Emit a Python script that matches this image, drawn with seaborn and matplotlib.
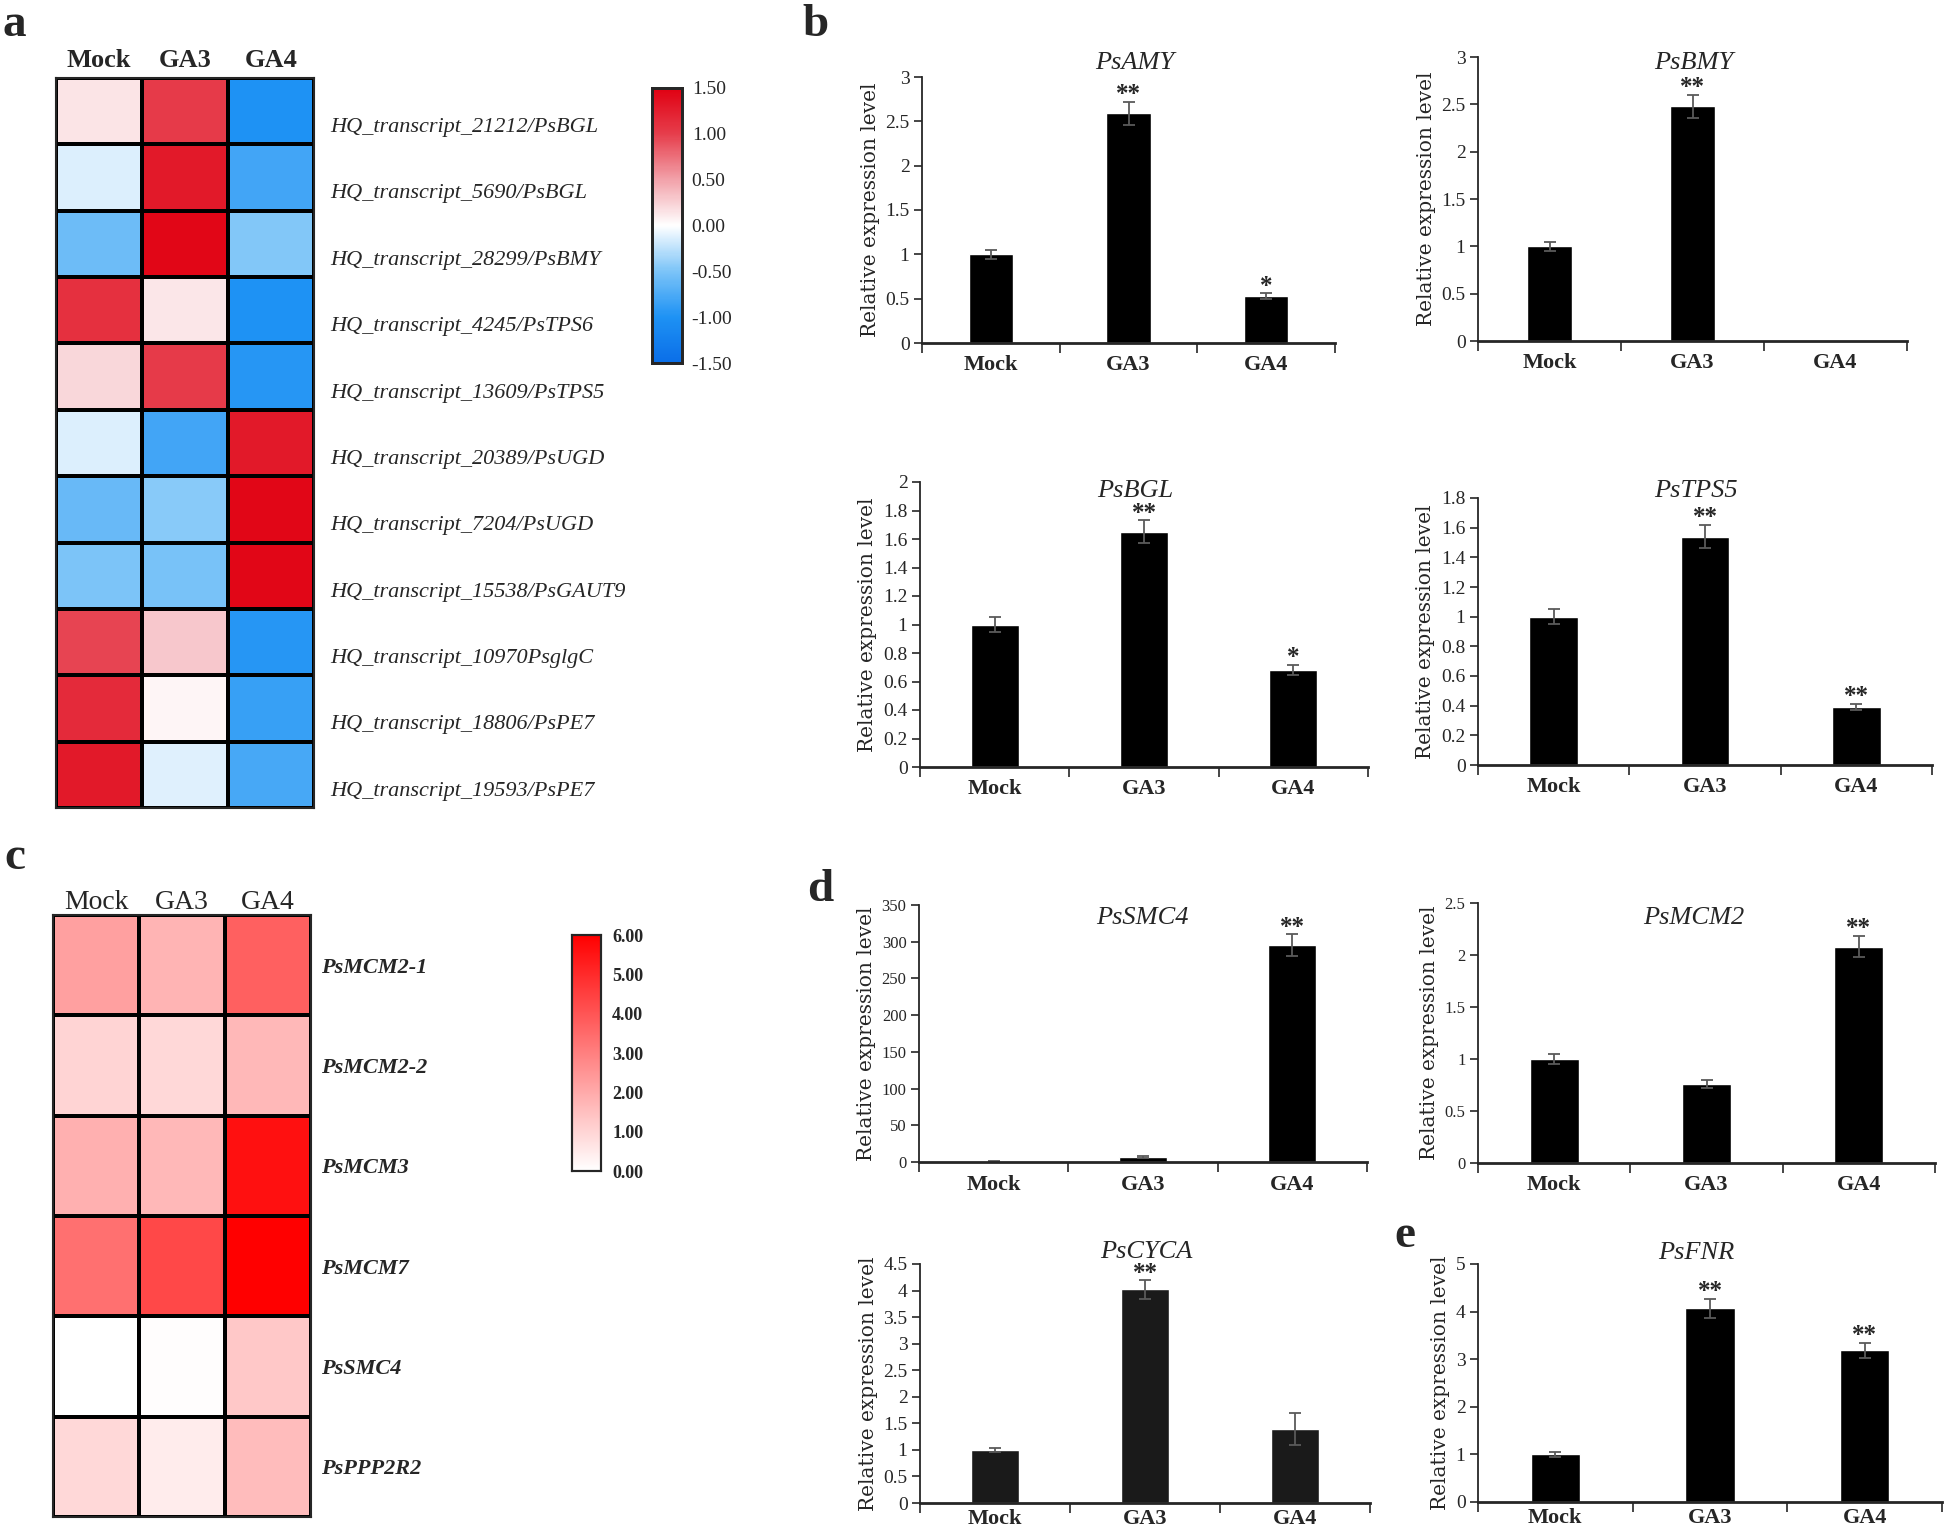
"""
GA3 / GA4 expression figure: heatmaps (a, c) and qRT-PCR bars (b, d, e)
"""

import numpy as np
import pandas as pd
import matplotlib
matplotlib.use('Agg')
import matplotlib.pyplot as plt
import seaborn as sns
from matplotlib.colors import LinearSegmentedColormap
from matplotlib.ticker import FuncFormatter

sns.set_style('ticks')
plt.rcParams['font.family'] = ['Liberation Serif', 'DejaVu Serif']

W, H = 1944, 1535

treatments = ['Mock', 'GA3', 'GA4']

# ---- panel a: z-score heatmap ----
genes_a = ['HQ_transcript_21212/PsBGL', 'HQ_transcript_5690/PsBGL',
           'HQ_transcript_28299/PsBMY', 'HQ_transcript_4245/PsTPS6',
           'HQ_transcript_13609/PsTPS5', 'HQ_transcript_20389/PsUGD',
           'HQ_transcript_7204/PsUGD', 'HQ_transcript_15538/PsGAUT9',
           'HQ_transcript_10970PsglgC', 'HQ_transcript_18806/PsPE7',
           'HQ_transcript_19593/PsPE7']
mock_a = [0.15, -0.14, -0.58, 1.11, 0.22, -0.14, -0.60, -0.50, 0.97, 1.16, 1.30]
ga3_a = [1.02, 1.30, 1.45, 0.14, 1.02, -0.80, -0.45, -0.52, 0.30, 0.05, -0.12]
ga4_a = [-1.00, -0.80, -0.48, -1.00, -0.95, 1.30, 1.45, 1.45, -0.95, -0.86, -0.78]

# ---- panel c: expression heatmap ----
genes_c = ['PsMCM2-1', 'PsMCM2-2', 'PsMCM3', 'PsMCM7', 'PsSMC4', 'PsPPP2R2']
mock_c = [2.24, 1.01, 1.86, 3.36, 0.00, 0.92]
ga3_c = [1.76, 0.92, 1.67, 4.30, 0.05, 0.45]
ga4_c = [3.74, 1.67, 5.62, 6.00, 1.29, 1.58]

# ---- qRT-PCR relative expression (mean, sd, significance) ----
amy_mean, amy_err, amy_sig = [1.0, 2.59, 0.53], [0.05, 0.13, 0.03], ['', '**', '*']
bmy_mean, bmy_err, bmy_sig = [1.0, 2.48, 0.0], [0.05, 0.12, 0.0], ['', '**', '']
bgl_mean, bgl_err, bgl_sig = [1.0, 1.65, 0.68], [0.05, 0.08, 0.035], ['', '**', '*']
tps5_mean, tps5_err, tps5_sig = [1.0, 1.54, 0.39], [0.05, 0.08, 0.02], ['', '**', '**']
smc4_mean, smc4_err, smc4_sig = [1.0, 7.0, 295.0], [0.5, 1.0, 15.0], ['', '', '**']
mcm2_mean, mcm2_err, mcm2_sig = [1.0, 0.76, 2.08], [0.05, 0.04, 0.10], ['', '', '**']
cyca_mean, cyca_err, cyca_sig = [1.0, 4.02, 1.39], [0.04, 0.17, 0.30], ['', '**', '']
fnr_mean, fnr_err, fnr_sig = [1.0, 4.07, 3.19], [0.05, 0.20, 0.16], ['', '**', '**']


def px_axes(fig, left, top, right, bottom):
    return fig.add_axes([left / W, 1 - bottom / H, (right - left) / W, (bottom - top) / H])


fig = plt.figure(figsize=(W / 100, H / 100), dpi=100)

# ===== heatmap a =====
cmap_a = LinearSegmentedColormap.from_list(
    'a', [(0, '#0a6ee8'), (1 / 6, '#1e92f4'), (1 / 3, '#7cc4f8'), (0.5, '#ffffff'),
          (2 / 3, '#f2a2aa'), (5 / 6, '#e63e4c'), (1, '#e00012')])
df_a = pd.DataFrame({'Mock': mock_a, 'GA3': ga3_a, 'GA4': ga4_a}, index=genes_a)
ax_a = px_axes(fig, 56, 78, 314, 808)
cax_a = px_axes(fig, 652, 88, 682, 363)
sns.heatmap(df_a, ax=ax_a, cbar_ax=cax_a, cmap=cmap_a, vmin=-1.5, vmax=1.5,
            linewidths=1.5, linecolor='black')
ax_a.xaxis.tick_top()
ax_a.yaxis.tick_right()
ax_a.set_xticklabels(treatments, fontsize=19, fontweight='bold')
# gene names sit a little below the middle of each row
ax_a.set_yticks(np.arange(len(genes_a)) + 0.71)
ax_a.set_yticklabels(genes_a, rotation=0, fontsize=16, style='italic')
ax_a.tick_params(length=0)
ax_a.tick_params(axis='y', pad=12)
ax_a.tick_params(axis='x', pad=4)
for s in ax_a.spines.values():
    s.set_visible(True)
    s.set_linewidth(1.5)
cax_a.set_yticks([1.5, 1.0, 0.5, 0.0, -0.5, -1.0, -1.5])
cax_a.set_yticklabels(['1.50', '1.00', '0.50', '0.00', '-0.50', '-1.00', '-1.50'], fontsize=14)
cax_a.tick_params(length=0, pad=7)
for s in cax_a.spines.values():
    s.set_visible(True)
    s.set_linewidth(2)

# ===== heatmap c =====
cmap_c = LinearSegmentedColormap.from_list('c', ['#ffffff', '#ff0000'])
df_c = pd.DataFrame({'Mock': mock_c, 'GA3': ga3_c, 'GA4': ga4_c}, index=genes_c)
ax_c = px_axes(fig, 53, 915, 311, 1517)
cax_c = px_axes(fig, 572, 935, 601, 1171)
sns.heatmap(df_c, ax=ax_c, cbar_ax=cax_c, cmap=cmap_c, vmin=0, vmax=6,
            linewidths=1.5, linecolor='black')
ax_c.xaxis.tick_top()
ax_c.yaxis.tick_right()
ax_c.set_xticklabels(treatments, fontsize=20)
ax_c.set_yticklabels(genes_c, rotation=0, fontsize=16, style='italic', fontweight='bold')
ax_c.tick_params(length=0)
ax_c.tick_params(axis='y', pad=7)
ax_c.tick_params(axis='x', pad=0)
for s in ax_c.spines.values():
    s.set_visible(True)
    s.set_linewidth(1.5)
cax_c.set_yticks([6, 5, 4, 3, 2, 1, 0])
cax_c.set_yticklabels(['6.00', '5.00', '4.00', '3.00', '2.00', '1.00', '0.00'],
                      fontsize=13, fontweight='bold')
cax_c.tick_params(length=0, pad=8)
for s in cax_c.spines.values():
    s.set_visible(True)
    s.set_linewidth(1.5)


# ===== bar panels =====
def bar_panel(ax, gene, mean, err, sig, ymax, ystep, color, tsize, title_xy, xpad=9):
    df = pd.DataFrame({'treatment': treatments, 'level': mean})
    sns.barplot(data=df, x='treatment', y='level', color=color, saturation=1,
                width=0.32, errorbar=None, ax=ax)
    for i, (m, e, s) in enumerate(zip(mean, err, sig)):
        if m > 0:
            ax.errorbar(i, m, yerr=e, fmt='none', ecolor='#5a5a5a',
                        elinewidth=1.3, capsize=4, capthick=1.3)
        if s:
            ax.annotate(s, (i, m + e), xytext=(0, -3), textcoords='offset points',
                        ha='center', va='bottom', fontsize=18, fontweight='bold')
    ax.set_xlim(-0.5, 2.5)
    ax.set_ylim(0, ymax)
    ax.set_yticks(np.arange(0, ymax + ystep / 2, ystep))
    ax.yaxis.set_major_formatter(FuncFormatter(lambda v, p: f'{round(v, 3):g}'))
    ax.set_xticks([-0.5, 0.5, 1.5, 2.5], minor=True)
    ax.tick_params(axis='x', which='major', length=0, pad=xpad, labelsize=16)
    for lab in ax.get_xticklabels():
        lab.set_fontweight('bold')
    ax.tick_params(axis='x', which='minor', length=7, width=1.2, direction='out')
    ax.tick_params(axis='y', length=6, width=1.2, direction='out', labelsize=tsize, pad=3)
    ax.set_xlabel('')
    ax.set_ylabel('Relative expression level', fontfamily='DejaVu Serif', fontsize=14.5)
    sns.despine(ax=ax)
    ax.spines['left'].set_linewidth(1.3)
    ax.spines['bottom'].set_linewidth(2)
    fig.text(title_xy[0] / W, 1 - title_xy[1] / H, gene, ha='center', va='center',
             fontsize=19, style='italic')


panels = [
    (px_axes(fig, 922, 77, 1335, 343), 'PsAMY', amy_mean, amy_err, amy_sig, 3, 0.5, 'black', 14, (1135, 63)),
    (px_axes(fig, 1478, 57, 1907, 341), 'PsBMY', bmy_mean, bmy_err, bmy_sig, 3, 0.5, 'black', 14, (1694, 63)),
    (px_axes(fig, 920, 482, 1368, 767), 'PsBGL', bgl_mean, bgl_err, bgl_sig, 2, 0.2, 'black', 14, (1135, 491)),
    (px_axes(fig, 1478, 498, 1932, 765), 'PsTPS5', tps5_mean, tps5_err, tps5_sig, 1.8, 0.2, 'black', 14, (1696, 491)),
    (px_axes(fig, 919, 905, 1367, 1162), 'PsSMC4', smc4_mean, smc4_err, smc4_sig, 350, 50, 'black', 12, (1142, 918)),
    (px_axes(fig, 1478, 903, 1935, 1163), 'PsMCM2', mcm2_mean, mcm2_err, mcm2_sig, 2.5, 0.5, 'black', 12, (1694, 918)),
    (px_axes(fig, 920, 1264, 1370, 1503), 'PsCYCA', cyca_mean, cyca_err, cyca_sig, 4.5, 0.5, '#1a1a1a', 14, (1146, 1252), 4),
    (px_axes(fig, 1478, 1264, 1942, 1502), 'PsFNR', fnr_mean, fnr_err, fnr_sig, 5, 1, 'black', 14, (1696, 1253), 4),
]
for p in panels:
    bar_panel(*p)

# panel letters
for letter, x, y in [('a', 14, 25), ('b', 815, 25), ('c', 15, 858), ('d', 820, 890), ('e', 1405, 1236)]:
    fig.text(x / W, 1 - y / H, letter, ha='center', va='center', fontsize=34, fontweight='bold')

fig.savefig('out.png', dpi=100)
